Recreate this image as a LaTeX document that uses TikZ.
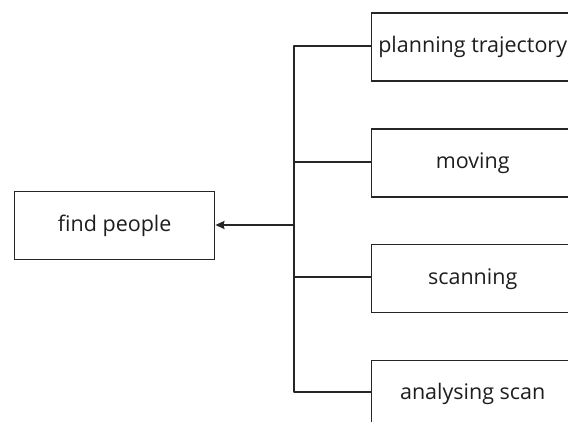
\documentclass[tikz,border=0pt]{standalone}
\usepackage{fontspec}
\setmainfont{Open Sans}
\usetikzlibrary{arrows.meta}
\definecolor{linec}{HTML}{262626}
\definecolor{textc}{HTML}{1E1E1E}
\begin{document}
\begin{tikzpicture}[x=1pt,y=-1pt,
  box/.style={draw=linec,line width=1.4pt,rectangle,minimum width=200pt,minimum height=68pt,inner sep=0pt,text=textc,font=\fontsize{21.5}{26}\selectfont},
  conn/.style={draw=linec,line width=2pt}]
\useasboundingbox (0,0) rectangle (568,422);
\clip (0,0) rectangle (568,422);
\fill[white] (0,0) rectangle (568,422);
\node[box,anchor=north west] (find) at (14,191) {find people};
\node[box,anchor=north west,minimum width=202pt] (plan) at (371,12.5) {planning trajectory};
\node[box,anchor=north west,minimum width=202pt] (move) at (371,128.5) {moving};
\node[box,anchor=north west,minimum width=202pt] (scan) at (371,244) {scanning};
\node[box,anchor=north west,minimum width=202pt] (anal) at (371,359.5) {analysing scan};
\coordinate (top) at (294,46.5);
\coordinate (bot) at (294,391.5);
\coordinate (mid) at (294,225);
\draw[conn,line join=round] (plan.west |- top) -- (top) -- (bot) -- (anal.west |- bot);
\draw[conn] (294,162) -- (move.west |- 0,162);
\draw[conn] (294,277.5) -- (scan.west |- 0,277.5);
\draw[conn,-{Stealth[length=9pt,width=8pt,inset=1pt]}] (mid) -- (find.east |- mid);
\end{tikzpicture}
\end{document}
